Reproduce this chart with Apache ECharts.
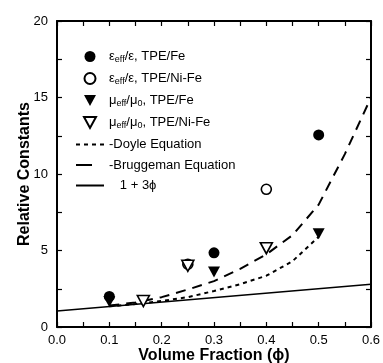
<!DOCTYPE html>
<html>
<head>
<meta charset="utf-8">
<script src="https://cdn.jsdelivr.net/npm/echarts@6/dist/echarts.min.js"></script>
<style>
  html, body { margin: 0; padding: 0; background: #fff; }
  #chart { width: 383px; height: 363px; }
</style>
</head>
<body>
<div id="chart"></div>
<script>
// measured points
const epsFe = [[0.1, 2.0], [0.3, 4.85], [0.5, 12.55]];
const epsNiFe = [[0.25, 4.1], [0.4, 9.0]];
const muFe = [[0.1, 1.65], [0.3, 3.6], [0.5, 6.1]];
const muNiFe = [[0.165, 1.7], [0.25, 4.0], [0.4, 5.15]];

// model curves
const doyle = [[0.1, 1.35], [0.15, 1.5], [0.2, 1.7], [0.25, 1.95], [0.3, 2.35],
  [0.35, 2.8], [0.4, 3.35], [0.45, 4.3], [0.5, 5.9]];
const bruggeman = [[0.1, 1.4], [0.15, 1.6], [0.2, 1.95], [0.25, 2.45], [0.3, 3.0],
  [0.35, 3.8], [0.4, 4.75], [0.45, 6.0], [0.5, 8.0], [0.55, 11.3], [0.6, 15.0]];
const linear = [[0, 1.05], [0.6, 2.8]];

const FONT = "Liberation Sans, Arial, Helvetica, sans-serif";
const downTri = "path://M0,0L12,0L6,11Z";

// legend labels (rich text for subscripts)
const legendLabels = {
  "eps TPE/Fe": "{t|ε}{s|eff}{t|/ε, TPE/Fe}",
  "eps TPE/Ni-Fe": "{t|ε}{s|eff}{t|/ε, TPE/Ni-Fe}",
  "mu TPE/Fe": "{t|μ}{s|eff}{t|/μ}{s|0}{t|, TPE/Fe}",
  "mu TPE/Ni-Fe": "{t|μ}{s|eff}{t|/μ}{s|0}{t|, TPE/Ni-Fe}",
  "Doyle": "{t|-Doyle Equation}",
  "Bruggeman": "{t|-Bruggeman Equation}",
  "linear": "{t|   1 + 3ϕ}",
};

const chart = echarts.init(document.getElementById("chart"));

const axisCommon = {
  nameMoveOverlap: false,
  axisLine: { show: true, onZero: false, lineStyle: { color: "#000", width: 2 } },
  axisTick: { show: true, inside: true, length: 5, lineStyle: { color: "#000", width: 1.2 } },
  minorTick: { show: true, splitNumber: 2, length: 5, lineStyle: { color: "#000", width: 1.2 } },
  splitLine: { show: false },
};

// line series: hide the marker in the legend icon
const noMarker = { color: "#000", opacity: 0 };

chart.setOption({
  animation: false,
  backgroundColor: "#fff",
  textStyle: { fontFamily: FONT },
  grid: { left: 57, right: 12, top: 21, bottom: 36, outerBoundsMode: "none" },
  legend: {
    orient: "vertical",
    left: 70,
    top: 45,
    itemWidth: 28,
    itemHeight: 11,
    itemGap: 7.5,
    selectedMode: false,
    formatter: (name) => legendLabels[name],
    textStyle: {
      color: "#000",
      fontFamily: FONT,
      fontSize: 13,
      rich: {
        t: { fontSize: 13, lineHeight: 16, color: "#000", fontFamily: FONT },
        s: { fontSize: 9, lineHeight: 8, verticalAlign: "bottom", color: "#000", fontFamily: FONT },
      },
    },
    data: [
      "eps TPE/Fe", "eps TPE/Ni-Fe", "mu TPE/Fe", "mu TPE/Ni-Fe", "Doyle",
      { name: "Bruggeman", lineStyle: { type: [16, 30] } },
      "linear",
    ],
  },
  xAxis: [
    Object.assign({
      type: "value", min: 0, max: 0.6, interval: 0.1, position: "bottom",
      name: "Volume Fraction (ϕ)", nameLocation: "middle", nameGap: 21,
      nameTextStyle: { fontSize: 16, fontWeight: "bold", color: "#000", fontFamily: FONT },
      axisLabel: { color: "#000", fontSize: 13, margin: 7, fontFamily: FONT, formatter: (v) => v.toFixed(1) },
    }, axisCommon),
    Object.assign({
      type: "value", min: 0, max: 0.6, interval: 0.1, position: "top",
      axisLabel: { show: false },
    }, axisCommon),
  ],
  yAxis: [
    Object.assign({
      type: "value", min: 0, max: 20, interval: 5, position: "left",
      name: "Relative Constants", nameLocation: "middle", nameGap: 24,
      nameTextStyle: { fontSize: 16, fontWeight: "bold", color: "#000", fontFamily: FONT },
      axisLabel: { color: "#000", fontSize: 13, margin: 9, fontFamily: FONT },
    }, axisCommon),
    Object.assign({
      type: "value", min: 0, max: 20, interval: 5, position: "right",
      axisLabel: { show: false },
    }, axisCommon),
  ],
  series: [
    {
      name: "linear", type: "line", data: linear, symbol: "none",
      itemStyle: noMarker, lineStyle: { color: "#000", width: 1.5 }, z: 2,
    },
    {
      name: "Doyle", type: "line", data: doyle, symbol: "none",
      itemStyle: noMarker, lineStyle: { color: "#000", width: 2, type: [4, 4] }, z: 2,
    },
    {
      name: "Bruggeman", type: "line", data: bruggeman, symbol: "none",
      itemStyle: noMarker, lineStyle: { color: "#000", width: 2, type: [10, 7] }, z: 2,
    },
    {
      name: "eps TPE/Fe", type: "scatter", data: epsFe, symbol: "circle", symbolSize: 11,
      itemStyle: { color: "#000", opacity: 1 }, z: 3,
    },
    {
      name: "eps TPE/Ni-Fe", type: "scatter", data: epsNiFe, symbol: "circle", symbolSize: 10,
      itemStyle: { color: "#fff", borderColor: "#000", borderWidth: 1.6, opacity: 1 }, z: 3,
    },
    {
      name: "mu TPE/Fe", type: "scatter", data: muFe, symbol: downTri, symbolSize: [12, 11],
      itemStyle: { color: "#000", opacity: 1 }, z: 3,
    },
    {
      name: "mu TPE/Ni-Fe", type: "scatter", data: muNiFe, symbol: downTri, symbolSize: [12, 11],
      itemStyle: { color: "#fff", borderColor: "#000", borderWidth: 1.6, opacity: 1 }, z: 4,
    },
  ],
});
</script>
</body>
</html>
